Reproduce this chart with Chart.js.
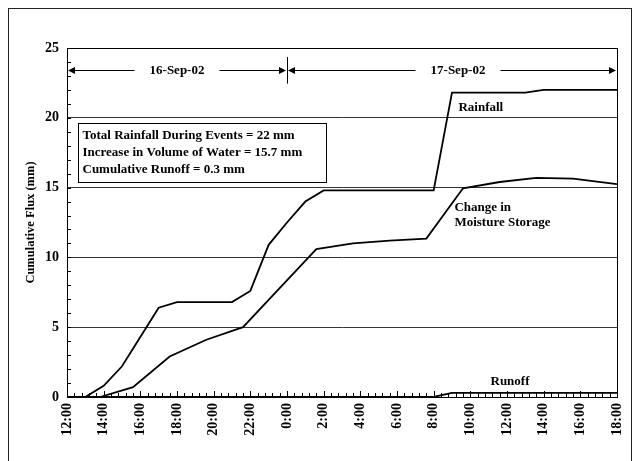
<!DOCTYPE html>
<html>
<head>
<meta charset="utf-8">
<script src="https://cdn.jsdelivr.net/npm/chart.js@4.4.1/dist/chart.umd.min.js"></script>
<style>
    html, body { margin: 0; padding: 0; background: #fff; }
    #wrap { width: 632px; height: 461px; position: relative; }
</style>
</head>
<body>
<div id="wrap"><canvas id="fluxChart"></canvas></div>
<script>
// time is counted in hours from 12:00 on 16-Sep-02
const rainHours = [1, 2, 3, 4, 5, 6, 7, 8, 9, 10, 11, 12, 13, 14, 15, 16, 17, 18, 19, 20, 21, 22, 23, 24, 25, 26, 27, 28, 29, 30];
const rainValues = [0, 0.8, 2.2, 4.3, 6.4, 6.8, 6.8, 6.8, 6.8, 7.6, 10.9, 12.5, 14.0, 14.8, 14.8, 14.8, 14.8, 14.8, 14.8, 14.8, 21.8, 21.8, 21.8, 21.8, 21.8, 22.0, 22.0, 22.0, 22.0, 22.0];

const storageHours = [1.8, 3.6, 5.6, 7.6, 9.6, 11.6, 13.6, 15.6, 17.6, 19.6, 21.6, 23.6, 25.6, 27.6, 30];
const storageValues = [0, 0.7, 2.9, 4.1, 5.0, 7.8, 10.6, 11.0, 11.2, 11.35, 14.95, 15.4, 15.7, 15.65, 15.25];

const runoffHours = [0, 20, 20.5, 21, 30];
const runoffValues = [0, 0, 0.15, 0.3, 0.3];

const xTickLabels = ['12:00', '14:00', '16:00', '18:00', '20:00', '22:00', '0:00', '2:00', '4:00', '6:00', '8:00', '10:00', '12:00', '14:00', '16:00', '18:00'];
const yTickValues = [0, 5, 10, 15, 20, 25];

const dayLabels = ['16-Sep-02', '17-Sep-02'];
const dayBounds = [0, 12, 30];
const summaryLines = [
    'Total Rainfall During Events = 22 mm',
    'Increase in Volume of Water = 15.7 mm',
    'Cumulative Runoff = 0.3 mm'
];
const curveLabels = [
    { lines: ['Rainfall'], x: 21.35, y: 20.75 },
    { lines: ['Change in', 'Moisture Storage'], x: 21.13, y: 13.6 },
    { lines: ['Runoff'], x: 23.1, y: 1.12 }
];

const FONT = "'Liberation Serif', 'Times New Roman', serif";
Chart.defaults.font.family = FONT;
Chart.defaults.font.weight = 'bold';
Chart.defaults.color = '#000';

function toPoints(xs, ys) {
    return xs.map((x, i) => ({ x: x, y: ys[i] }));
}

function lineSet(label, xs, ys) {
    return {
        label: label,
        data: toPoints(xs, ys),
        borderColor: '#000',
        borderWidth: 1.8,
        pointRadius: 0,
        tension: 0,
        fill: false
    };
}

// inward tick marks, plot frame, date arrows and text notes
const decorPlugin = {
    id: 'decor',
    afterDraw(chart) {
        const ctx = chart.ctx;
        const xs = chart.scales.x;
        const ys = chart.scales.y;
        const area = chart.chartArea;

        ctx.save();
        ctx.strokeStyle = '#000';
        ctx.lineWidth = 1;

        // minor ticks on y (every 1 mm), pointing into the plot
        for (let v = 0; v <= 25; v++) {
            const py = Math.round(ys.getPixelForValue(v)) + 0.5;
            ctx.beginPath();
            ctx.moveTo(area.left, py);
            ctx.lineTo(area.left + 4, py);
            ctx.stroke();
        }
        // ticks on x: major every 2 h, minor every 24 min
        for (let i = 0; i <= 75; i++) {
            const v = i * 0.4;
            const px = Math.round(xs.getPixelForValue(v)) + 0.5;
            const len = (i % 5 === 0) ? 6 : 4;
            ctx.beginPath();
            ctx.moveTo(px, area.bottom);
            ctx.lineTo(px, area.bottom - len);
            ctx.stroke();
        }

        // plot frame
        ctx.strokeRect(Math.round(area.left) + 0.5, Math.round(area.top) + 0.5,
            Math.round(area.right - area.left), Math.round(area.bottom - area.top));

        // outer chart border
        ctx.strokeStyle = '#222';
        ctx.strokeRect(8.5, 8.5, 623, 470);

        // date arrows
        ctx.strokeStyle = '#000';
        ctx.fillStyle = '#000';
        const ay = Math.round(ys.getPixelForValue(23.45)) + 0.5;
        ctx.font = 'bold 13px ' + FONT;
        ctx.textAlign = 'center';
        ctx.textBaseline = 'middle';
        for (let d = 0; d < dayLabels.length; d++) {
            const x0 = xs.getPixelForValue(dayBounds[d]);
            const x1 = xs.getPixelForValue(dayBounds[d + 1]);
            const cx = (x0 + x1) / 2 + (d === 1 ? 6 : 0);
            const half = ctx.measureText(dayLabels[d]).width / 2 + 15;
            ctx.beginPath();
            ctx.moveTo(x0 + 6, ay);
            ctx.lineTo(cx - half, ay);
            ctx.moveTo(cx + half, ay);
            ctx.lineTo(x1 - 6, ay);
            ctx.stroke();
            // arrow heads
            ctx.beginPath();
            ctx.moveTo(x0 + 1, ay);
            ctx.lineTo(x0 + 8, ay - 3.5);
            ctx.lineTo(x0 + 8, ay + 3.5);
            ctx.closePath();
            ctx.fill();
            ctx.beginPath();
            ctx.moveTo(x1 - 1, ay);
            ctx.lineTo(x1 - 8, ay - 3.5);
            ctx.lineTo(x1 - 8, ay + 3.5);
            ctx.closePath();
            ctx.fill();
            ctx.fillText(dayLabels[d], cx, ay);
        }
        // day separator
        const sx = Math.round(xs.getPixelForValue(dayBounds[1])) + 0.5;
        ctx.beginPath();
        ctx.moveTo(sx, ys.getPixelForValue(24.35));
        ctx.lineTo(sx, ys.getPixelForValue(22.45));
        ctx.stroke();

        // summary box
        const bx0 = Math.round(xs.getPixelForValue(0.62)) + 0.5;
        const bx1 = Math.round(xs.getPixelForValue(14.15)) + 0.5;
        const by0 = Math.round(ys.getPixelForValue(19.6)) + 0.5;
        const by1 = Math.round(ys.getPixelForValue(15.43)) + 0.5;
        ctx.fillStyle = '#fff';
        ctx.fillRect(bx0, by0, bx1 - bx0, by1 - by0);
        ctx.strokeRect(bx0, by0, bx1 - bx0, by1 - by0);
        ctx.fillStyle = '#000';
        ctx.textAlign = 'left';
        summaryLines.forEach((line, i) => {
            ctx.fillText(line, bx0 + 4, by0 + 12.5 + i * 16.7);
        });

        // curve names
        curveLabels.forEach(lab => {
            const lx = xs.getPixelForValue(lab.x);
            const ly = ys.getPixelForValue(lab.y);
            lab.lines.forEach((t, i) => ctx.fillText(t, lx, ly + i * 15));
        });

        ctx.restore();
    }
};

const chart = new Chart(document.getElementById('fluxChart'), {
    type: 'line',
    data: {
        datasets: [
            lineSet('Rainfall', rainHours, rainValues),
            lineSet('Change in Moisture Storage', storageHours, storageValues),
            lineSet('Runoff', runoffHours, runoffValues)
        ]
    },
    options: {
        responsive: true,
        maintainAspectRatio: false,
        animation: false,
        layout: { padding: { left: 0, top: 48, right: 15, bottom: 0 } },
        plugins: { legend: { display: false }, tooltip: { enabled: false } },
        scales: {
            x: {
                type: 'linear',
                min: 0,
                max: 30,
                afterFit: s => { s.height = 64; s.paddingLeft = 0; s.paddingRight = 0; },
                afterBuildTicks: s => { s.ticks = xTickLabels.map((l, i) => ({ value: i * 2 })); },
                grid: { display: false, drawTicks: false },
                border: { display: true, color: '#000', width: 1 },
                ticks: {
                    autoSkip: false,
                    minRotation: 90,
                    maxRotation: 90,
                    padding: 6,
                    font: { size: 14, weight: 'bold' },
                    callback: (v, i) => xTickLabels[i]
                }
            },
            y: {
                min: 0,
                max: 25,
                afterFit: s => { s.width = 67; s.paddingTop = 0; s.paddingBottom = 0; },
                afterBuildTicks: s => { s.ticks = yTickValues.map(v => ({ value: v })); },
                grid: { color: '#333', lineWidth: 1, drawTicks: false },
                border: { display: true, color: '#000', width: 1 },
                ticks: {
                    padding: 8,
                    font: { size: 14, weight: 'bold' }
                },
                title: {
                    display: true,
                    text: 'Cumulative Flux (mm)',
                    font: { size: 12.5, weight: 'bold' },
                    padding: { top: 23, bottom: 0 }
                }
            }
        }
    },
    plugins: [decorPlugin]
});
</script>
</body>
</html>
